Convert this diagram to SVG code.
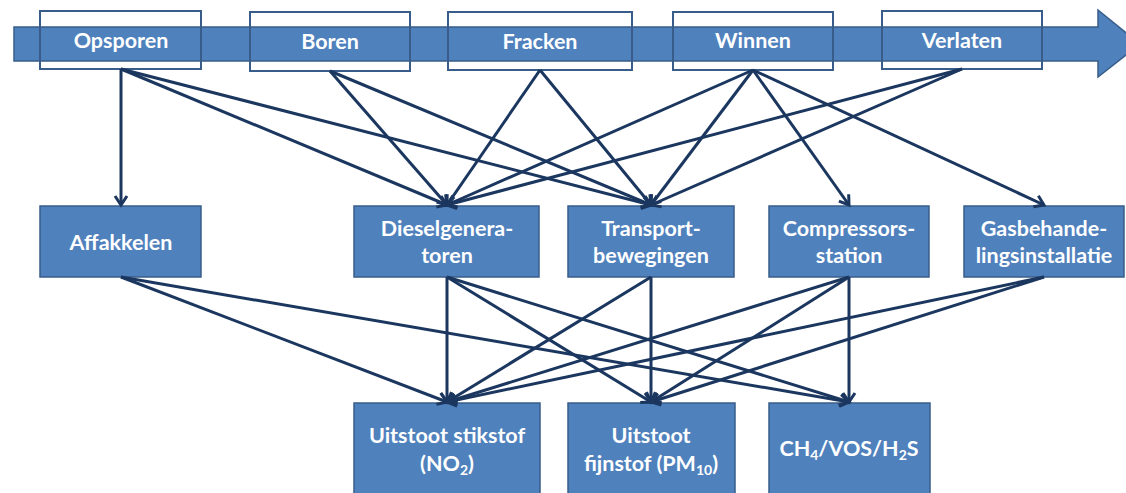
<svg xmlns="http://www.w3.org/2000/svg" width="1126" height="493" viewBox="0 0 1126 493">
<style>
.band{fill:#4F81BD;stroke:#385D8A;stroke-width:1.5}
.phase{fill:none;stroke:#385D8A;stroke-width:2}
.box{fill:#4F81BD;stroke:#385D8A;stroke-width:1.5}
.t{font-family:Lato,"Open Sans","Liberation Sans",sans-serif;font-weight:bold;font-size:21.5px;fill:#fff;text-anchor:middle}
.c{stroke:#1B375F;stroke-width:3;fill:none;marker-end:url(#ah)}
</style>
<defs>
<marker id="ah" markerUnits="userSpaceOnUse" markerWidth="20" markerHeight="20" viewBox="-12 -10 14 20" refX="0" refY="0" orient="auto">
<path d="M-9,-6 L0,0 L-9,6" fill="none" stroke="#1B375F" stroke-width="3" stroke-linejoin="miter"/>
</marker>
</defs>
<g id="timeline">
<polygon class="band" points="14,27 1098,27 1098,10 1140,44 1098,77 1098,61 14,61"/>
</g>
<g id="opsporen"><rect class="phase" x="40" y="11" width="161" height="58"/><text class="t" x="121" y="48">Opsporen</text></g>
<g id="boren"><rect class="phase" x="250" y="12" width="160" height="59"/><text class="t" x="330" y="49">Boren</text></g>
<g id="fracken"><rect class="phase" x="448" y="12" width="184" height="58"/><text class="t" x="540" y="49">Fracken</text></g>
<g id="winnen"><rect class="phase" x="673" y="12" width="160" height="58"/><text class="t" x="753" y="48">Winnen</text></g>
<g id="verlaten"><rect class="phase" x="882" y="11" width="160" height="58"/><text class="t" x="962" y="48">Verlaten</text></g>

<g id="affakkelen"><rect class="box" x="40" y="206" width="161" height="71"/><text class="t" x="121" y="250">Affakkelen</text></g>
<g id="dieselgeneratoren"><rect class="box" x="354" y="206" width="185" height="71"/><text class="t" x="447" y="236">Dieselgenera-</text><text class="t" x="447" y="263">toren</text></g>
<g id="transport"><rect class="box" x="568" y="206" width="166" height="71"/><text class="t" x="651" y="236">Transport-</text><text class="t" x="651" y="263">bewegingen</text></g>
<g id="compressor"><rect class="box" x="769" y="206" width="160" height="71"/><text class="t" x="849" y="236">Compressors-</text><text class="t" x="849" y="263">station</text></g>
<g id="gasbehandeling"><rect class="box" x="964" y="206" width="160" height="71"/><text class="t" x="1044" y="236">Gasbehande-</text><text class="t" x="1044" y="263">lingsinstallatie</text></g>

<g id="stikstof"><rect class="box" x="354" y="403" width="186" height="100"/><text class="t" x="447" y="443">Uitstoot stikstof</text><text class="t" x="447" y="471">(NO<tspan font-size="14" dy="4">2</tspan><tspan dy="-4">)</tspan></text></g>
<g id="fijnstof"><rect class="box" x="568" y="403" width="167" height="100"/><text class="t" x="651" y="443">Uitstoot</text><text class="t" x="651" y="471">fijnstof (PM<tspan font-size="14" dy="4">10</tspan><tspan dy="-4">)</tspan></text></g>
<g id="ch4"><rect class="box" x="769" y="403" width="161" height="100"/><text class="t" x="849" y="456">CH<tspan font-size="14" dy="4">4</tspan><tspan dy="-4">/VOS/H</tspan><tspan font-size="14" dy="4">2</tspan><tspan dy="-4">S</tspan></text></g>

<g id="connectors">
<line class="c" x1="121" y1="69" x2="121" y2="205"/>
<line class="c" x1="121" y1="69" x2="447" y2="205"/>
<line class="c" x1="121" y1="69" x2="651" y2="205"/>
<line class="c" x1="330" y1="71" x2="447" y2="205"/>
<line class="c" x1="330" y1="71" x2="651" y2="205"/>
<line class="c" x1="540" y1="70" x2="447" y2="205"/>
<line class="c" x1="540" y1="70" x2="651" y2="205"/>
<line class="c" x1="753" y1="70" x2="447" y2="205"/>
<line class="c" x1="753" y1="70" x2="651" y2="205"/>
<line class="c" x1="753" y1="70" x2="849" y2="205"/>
<line class="c" x1="753" y1="70" x2="1044" y2="205"/>
<line class="c" x1="962" y1="69" x2="447" y2="205"/>
<line class="c" x1="962" y1="69" x2="651" y2="205"/>

<line class="c" x1="121" y1="277" x2="447" y2="402"/>
<line class="c" x1="121" y1="277" x2="849" y2="402"/>
<line class="c" x1="447" y1="277" x2="447" y2="402"/>
<line class="c" x1="447" y1="277" x2="651" y2="402"/>
<line class="c" x1="447" y1="277" x2="849" y2="402"/>
<line class="c" x1="651" y1="277" x2="447" y2="402"/>
<line class="c" x1="651" y1="277" x2="651" y2="402"/>
<line class="c" x1="849" y1="277" x2="447" y2="402"/>
<line class="c" x1="849" y1="277" x2="651" y2="402"/>
<line class="c" x1="849" y1="277" x2="849" y2="402"/>
<line class="c" x1="1044" y1="277" x2="447" y2="402"/>
<line class="c" x1="1044" y1="277" x2="651" y2="402"/>
</g>
</svg>
